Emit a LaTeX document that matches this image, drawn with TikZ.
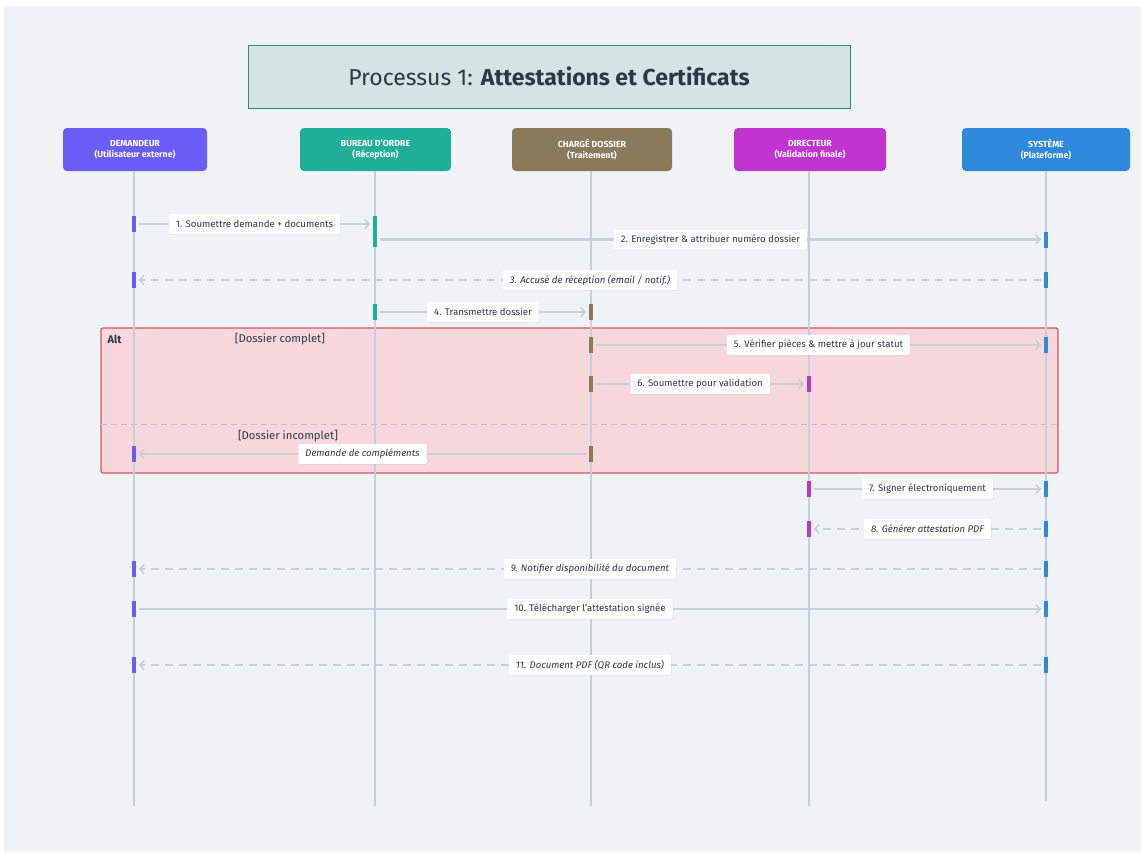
\documentclass[tikz,border=0pt]{standalone}
\usepackage{fontspec}
\setmainfont{Fira Sans}
\usetikzlibrary{arrows.meta,shadows}

\definecolor{pagebg}{HTML}{EFF3F6}
\definecolor{ink}{HTML}{2D3748}
\definecolor{wire}{HTML}{C6D0DB}
\definecolor{life}{HTML}{C3CFDA}
\definecolor{titlefill}{HTML}{D3E5E2}
\definecolor{titledraw}{HTML}{2F8C75}
\definecolor{demc}{HTML}{6A5CF7}
\definecolor{burc}{HTML}{1FAE98}
\definecolor{chgc}{HTML}{8A7A5C}
\definecolor{dirc}{HTML}{C035D0}
\definecolor{sysc}{HTML}{2E88DB}
\definecolor{altfill}{HTML}{F7D7DB}
\definecolor{altdraw}{HTML}{D85461}
\definecolor{sepc}{HTML}{B9C3CD}

\tikzset{
  actor/.style={rounded corners=4pt, minimum height=43pt, inner sep=2pt,
    text=white, align=center, font=\fontsize{8.8}{11}\selectfont\bfseries},
  titlebox/.style={fill=titlefill, draw=titledraw, line width=1pt,
    minimum width=602pt, minimum height=63pt, text=ink,
    font=\fontsize{23}{26}\selectfont},
  lifeline/.style={draw=life, line width=1.8pt},
  bar/.style={minimum width=4pt, inner sep=0pt, outer sep=0pt, draw=none},
  msg/.style={draw=wire, line width=2.2pt, shorten <=3pt, shorten >=3pt,
    -{Straight Barb[length=4pt,width=9pt,line width=1.6pt]}},
  reply/.style={msg, dash pattern=on 8pt off 6pt},
  lbl/.style={fill=white, rounded corners=2pt, text=ink, inner xsep=7pt,
    minimum height=20pt, font=\fontsize{9.6}{11}\selectfont,
    drop shadow={opacity=0.12, shadow xshift=0.6pt, shadow yshift=-0.8pt}},
  ilbl/.style={lbl, font=\fontsize{9.6}{11}\selectfont\itshape},
  guard/.style={text=ink, font=\fontsize{11.3}{13}\selectfont},
}

\begin{document}
\begin{tikzpicture}[x=1pt, y=-1pt]
  % page and background
  \useasboundingbox (0,0) rectangle (1141,852);
  \fill[pagebg] (4,6) rectangle (1141,852);

  % heading
  \node[titlebox] (ttl) at (549,76.5) {Processus 1: \textbf{Attestations et Certificats}};

  % alt fragment
  \node[fill=altfill, draw=altdraw, line width=1.2pt, rounded corners=2pt,
        minimum width=957pt, minimum height=145pt] (alt) at (579.5,400.5) {};
  \coordinate (sepL) at (101,424);
  \coordinate (sepR) at (1058,424);
  \draw[sepc, line width=1pt, dash pattern=on 6pt off 4pt] (sepL) -- (sepR);
  \node[text=ink, anchor=west, font=\fontsize{11}{13}\selectfont\bfseries] (altlbl) at (104,339.5) {Alt};
  \node[guard] (g1) at (280,339.5) {[Dossier complet]};
  \node[guard] (g2) at (288,436) {[Dossier incomplet]};

  % participants
  \node[actor, fill=demc, minimum width=144pt] (dem) at (135,149.5) {DEMANDEUR\\(Utilisateur externe)};
  \node[actor, fill=burc, minimum width=151pt] (bur) at (375.5,149.5) {BUREAU D'ORDRE\\(Réception)};
  \node[actor, fill=chgc, minimum width=160pt] (chg) at (592,149.5) {CHARGÉ DOSSIER\\(Traitement)};
  \node[actor, fill=dirc, minimum width=152pt] (dir) at (810,149.5) {DIRECTEUR\\(Validation finale)};
  \node[actor, fill=sysc, minimum width=168pt] (sys) at (1046,149.5) {SYSTÈME\\(Plateforme)};

  % lifelines
  \coordinate (demEnd) at (134,806);
  \coordinate (burEnd) at (375,806);
  \coordinate (chgEnd) at (591,806);
  \coordinate (dirEnd) at (809,806);
  \coordinate (sysEnd) at (1046,801);
  \draw[lifeline] (dem.south -| demEnd) -- (demEnd);
  \draw[lifeline] (bur.south -| burEnd) -- (burEnd);
  \draw[lifeline] (chg.south -| chgEnd) -- (chgEnd);
  \draw[lifeline] (dir.south -| dirEnd) -- (dirEnd);
  \draw[lifeline] (sys.south -| sysEnd) -- (sysEnd);

  % activation bars
  \node[bar, fill=demc, minimum height=16pt] (d1) at (134,224) {};
  \node[bar, fill=burc, minimum height=31pt] (b1) at (375,231.5) {};
  \node[bar, fill=sysc, minimum height=16pt] (s2) at (1046,239.5) {};
  \node[bar, fill=demc, minimum height=16pt] (d3) at (134,280) {};
  \node[bar, fill=sysc, minimum height=16pt] (s3) at (1046,280) {};
  \node[bar, fill=burc, minimum height=16pt] (b4) at (375,312) {};
  \node[bar, fill=chgc, minimum height=16pt] (c4) at (591,312) {};
  \node[bar, fill=chgc, minimum height=16pt] (c5) at (591,345) {};
  \node[bar, fill=sysc, minimum height=16pt] (s5) at (1046,345) {};
  \node[bar, fill=chgc, minimum height=16pt] (c6) at (591,384) {};
  \node[bar, fill=dirc, minimum height=16pt] (r6) at (809,384) {};
  \node[bar, fill=demc, minimum height=16pt] (dx) at (134,454) {};
  \node[bar, fill=chgc, minimum height=16pt] (cx) at (591,454) {};
  \node[bar, fill=dirc, minimum height=16pt] (r7) at (809,489) {};
  \node[bar, fill=sysc, minimum height=16pt] (s7) at (1046,489) {};
  \node[bar, fill=dirc, minimum height=16pt] (r8) at (809,529) {};
  \node[bar, fill=sysc, minimum height=16pt] (s8) at (1046,529) {};
  \node[bar, fill=demc, minimum height=16pt] (d9) at (134,569) {};
  \node[bar, fill=sysc, minimum height=16pt] (s9) at (1046,569) {};
  \node[bar, fill=demc, minimum height=16pt] (d10) at (134,609) {};
  \node[bar, fill=sysc, minimum height=16pt] (s10) at (1046,609) {};
  \node[bar, fill=demc, minimum height=16pt] (d11) at (134,665) {};
  \node[bar, fill=sysc, minimum height=16pt] (s11) at (1046,665) {};

  % messages
  \draw[msg] (d1.east) -- (d1 -| b1.west) node[lbl, midway] {1. Soumettre demande + documents};
  \draw[msg] (s2 -| b1.east) -- (s2.west) node[lbl, midway] {2. Enregistrer \& attribuer numéro dossier};
  \draw[reply] (s3.west) -- (d3.east) node[ilbl, midway] {3. Accusé de réception (email / notif.)};
  \draw[msg] (b4.east) -- (c4.west) node[lbl, midway] {4. Transmettre dossier};
  \draw[msg] (c5.east) -- (s5.west) node[lbl, midway] {5. Vérifier pièces \& mettre à jour statut};
  \draw[msg] (c6.east) -- (r6.west) node[lbl, midway] {6. Soumettre pour validation};
  \draw[msg] (cx.west) -- (dx.east) node[ilbl, midway] {Demande de compléments};
  \draw[msg] (r7.east) -- (s7.west) node[lbl, midway] {7. Signer électroniquement};
  \draw[reply] (s8.west) -- (r8.east) node[ilbl, midway] {8. Générer attestation PDF};
  \draw[reply] (s9.west) -- (d9.east) node[ilbl, midway] {9. Notifier disponibilité du document};
  \draw[msg] (d10.east) -- (s10.west) node[lbl, midway] {10. Télécharger l'attestation signée};
  \draw[reply] (s11.west) -- (d11.east) node[ilbl, midway] {11. Document PDF (QR code inclus)};
\end{tikzpicture}
\end{document}
